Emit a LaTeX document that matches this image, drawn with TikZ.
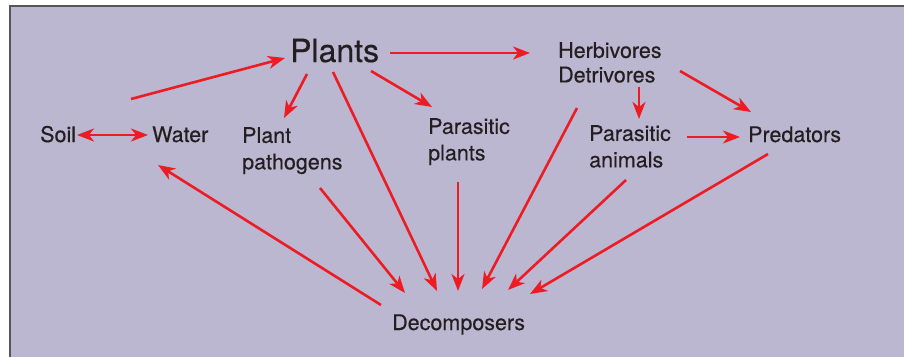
\documentclass[tikz,border=0pt]{standalone}
\usepackage{fontspec}
\setmainfont[FakeBold=0.35]{TeX Gyre Heros}
\usetikzlibrary{arrows.meta,calc}
\definecolor{bg}{RGB}{187,183,209}
\definecolor{arrred}{RGB}{237,28,36}
\definecolor{txt}{RGB}{35,31,32}
\definecolor{framec}{RGB}{85,85,90}
\begin{document}
\begin{tikzpicture}[x=1pt,y=-1pt,
  lbl/.style={inner sep=0pt, text=txt, font=\fontsize{21.5}{26.5}\selectfont},
  ml/.style={lbl, align=left, anchor=north west},
  sl/.style={lbl, anchor=base west},
  tipr/.tip={Stealth[length=17pt,width=13pt,inset=5pt]},
  arr/.style={draw=arrred, line width=2.6pt, -tipr},
  darr/.style={draw=arrred, line width=2.6pt, tipr-tipr}]
\useasboundingbox (0,0) rectangle (904,356);
\clip (0,0) rectangle (904,356);
\fill[white] (0,0) rectangle (904,356);
\draw[fill=bg, draw=framec, line width=2pt] (10,6) rectangle (930,380);

\node[sl, font=\fontsize{32}{36}\selectfont] (plants) at (290,62) {Plants};
\node[ml, font=\fontsize{21.5}{24.5}\selectfont] (herb) at (558,42) {Herbivores\\Detrivores};
\node[sl] (soil) at (40,142) {Soil};
\node[sl] (water) at (152,142) {Water};
\node[ml] (path) at (242,127) {Plant\\pathogens};
\node[ml] (parpl) at (428,118) {Parasitic\\plants};
\node[ml] (paran) at (589,125) {Parasitic\\animals};
\node[sl] (pred) at (748,142) {Predators};
\node[sl] (decomp) at (392,330) {Decomposers};

% connectors
\draw[arr] ($(water.base west)+(-21,-43)$) -- ($(plants.base west)+(-5,-4)$);
\draw[arr] ($(plants.base west)+(100,-9)$) -- ($(herb.north west)+(-28,11)$);
\draw[arr] ($(plants.base west)+(17,12)$) -- ($(path.north west)+(42,-9)$);
\draw[arr] ($(plants.base west)+(43,10)$) -- ($(decomp.base west)+(45,-39)$);
\draw[arr] ($(plants.base west)+(81,9)$) -- ($(parpl.north west)+(4,-11)$);
\draw[arr] ($(herb.north west)+(81,45)$) -- ($(paran.north west)+(50,-6)$);
\draw[arr] ($(herb.north west)+(122,29)$) -- ($(pred.base west)+(3,-30)$);
\draw[arr] ($(herb.north west)+(19,66)$) -- ($(decomp.base west)+(90,-41)$);
\draw[arr] ($(paran.north west)+(98,12)$) -- ($(pred.base west)+(-8,-5)$);
\draw[arr] ($(paran.north west)+(37,55)$) -- ($(decomp.base west)+(116,-40)$);
\draw[arr] ($(pred.base west)+(20,12)$) -- ($(decomp.base west)+(138,-36)$);
\draw[arr] ($(parpl.north west)+(30,64)$) -- ($(decomp.base west)+(66,-39)$);
\draw[arr] ($(path.north west)+(78,61)$) -- ($(decomp.base west)+(13,-37)$);
\draw[arr] ($(decomp.base west)+(-11,-25)$) -- ($(water.base west)+(6,23)$);
\draw[darr] ($(soil.base west)+(37,-7)$) -- ($(water.base west)+(-4,-7)$);
\end{tikzpicture}
\end{document}
